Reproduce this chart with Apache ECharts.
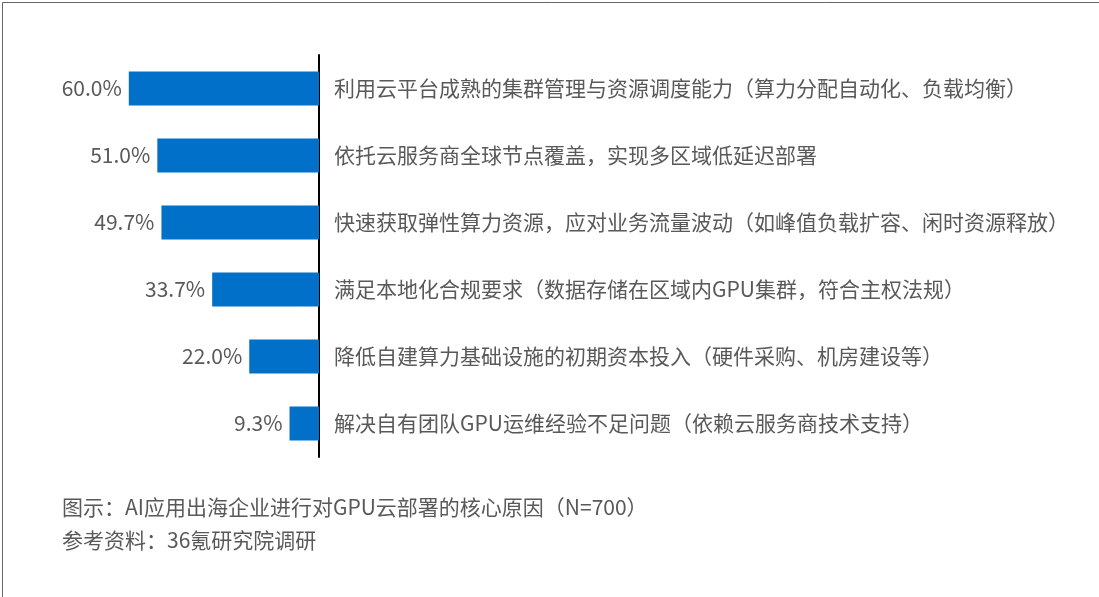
<!DOCTYPE html>
<html>
<head>
<meta charset="utf-8">
<script src="https://cdn.jsdelivr.net/npm/echarts@6/dist/echarts.min.js"></script>
<style>
html,body{margin:0;padding:0;background:#fff;}
#c{width:1099px;height:597px;}
</style>
</head>
<body>
<div id="c"></div>
<script>
const categories = [
  '利用云平台成熟的集群管理与资源调度能力（算力分配自动化、负载均衡）',
  '依托云服务商全球节点覆盖，实现多区域低延迟部署',
  '快速获取弹性算力资源，应对业务流量波动（如峰值负载扩容、闲时资源释放）',
  '满足本地化合规要求（数据存储在区域内GPU集群，符合主权法规）',
  '降低自建算力基础设施的初期资本投入（硬件采购、机房建设等）',
  '解决自有团队GPU运维经验不足问题（依赖云服务商技术支持）'
];
const values = [60.0, 51.0, 49.7, 33.7, 22.0, 9.3];
const captionText = '图示：AI应用出海企业进行对GPU云部署的核心原因（N=700）';
const sourceText = '参考资料：36氪研究院调研';

const FONT = '"Microsoft YaHei","Noto Sans CJK SC","Noto Sans",sans-serif';
const chart = echarts.init(document.getElementById('c'));
chart.setOption({
  animation: false,
  backgroundColor: '#fff',
  textStyle: { fontFamily: FONT },
  grid: { left: 2, right: 780, top: 55, bottom: 140, containLabel: false },
  xAxis: {
    type: 'value', inverse: true, min: 0, max: 100,
    show: false
  },
  yAxis: {
    type: 'category', inverse: true, position: 'right',
    data: categories,
    axisLine: { show: true, lineStyle: { color: '#000', width: 2 } },
    axisTick: { show: false },
    axisLabel: { margin: 15, color: '#595959', fontSize: 21, fontFamily: FONT, align: 'left' }
  },
  series: [{
    type: 'bar',
    data: values,
    barWidth: 34,
    itemStyle: { color: '#0070C8' },
    label: {
      show: true, position: 'left', distance: 7,
      color: '#595959', fontSize: 21, fontFamily: FONT,
      formatter: p => p.value.toFixed(1) + '%'
    }
  }],
  graphic: [
    { type: 'rect', left: 0, top: 0, shape: { x: 0.5, y: 0.5, width: 1098, height: 596 },
      style: { fill: 'none', stroke: '#666', lineWidth: 1 }, silent: true },
    { type: 'text', left: 62, top: 497,
      style: { text: captionText, fill: '#595959', font: '21px ' + FONT } },
    { type: 'text', left: 62, top: 530,
      style: { text: sourceText, fill: '#595959', font: '21px ' + FONT } }
  ]
});
</script>
</body>
</html>
